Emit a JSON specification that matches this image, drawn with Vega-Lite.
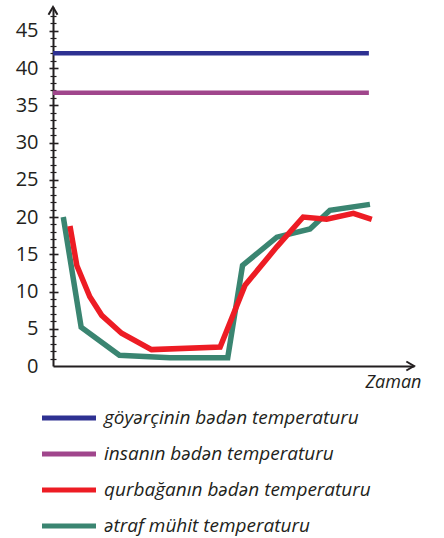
{
  "$schema": "https://vega.github.io/schema/vega-lite/v6.json",
  "width": 356,
  "height": 359,
  "autosize": {"type": "none"},
  "padding": {"left": 58, "top": 7, "right": 30, "bottom": 172},
  "background": "white",
  "config": {
    "view": {"stroke": null},
    "axis": {"grid": false, "domainColor": "#231f20", "tickColor": "#231f20", "labelColor": "#231f20", "titleColor": "#231f20"}
  },
  "encoding": {
    "x": {
      "field": "t", "type": "quantitative",
      "scale": {"domain": [0, 100], "range": [-5, 356], "nice": false, "zero": false},
      "axis": {
        "title": "Zaman", "ticks": false, "labels": false, "domainWidth": 2,
        "titleFont": "Open Sans", "titleFontSize": 18, "titleFontStyle": "italic", "titleFontWeight": "normal",
        "titleX": 363, "titleY": 16, "titleAlign": "right", "titleBaseline": "middle"
      }
    }
  },
  "layer": [
    {
      "data": {"values": [
        {"series": "göyərçinin bədən temperaturu", "t": 0, "v": 42},
        {"series": "göyərçinin bədən temperaturu", "t": 87.5, "v": 42},
        {"series": "insanın bədən temperaturu", "t": 0, "v": 36.7},
        {"series": "insanın bədən temperaturu", "t": 87.5, "v": 36.7}
      ]},
      "mark": {"type": "line", "strokeWidth": 4.5, "strokeCap": "butt"},
      "encoding": {
        "y": {
          "field": "v", "type": "quantitative",
          "scale": {"domain": [0, 48.2], "nice": false},
          "axis": {"orient": "left", "title": null, "values": [0, 5, 10, 15, 20, 25, 30, 35, 40, 45], "ticks": false, "tickSize": 0, "offset": 5, "labelPadding": 15, "labelFont": "Open Sans", "labelFontSize": 20, "labelFlush": false, "domainWidth": 2}
        },
        "color": {
          "field": "series", "type": "nominal",
          "scale": {
            "domain": ["göyərçinin bədən temperaturu", "insanın bədən temperaturu", "qurbağanın bədən temperaturu", "ətraf mühit temperaturu"],
            "range": ["#2e3192", "#a0468c", "#ed1c24", "#3a8571"]
          },
          "legend": {
            "orient": "none", "legendX": -5, "legendY": 395, "title": null,
            "symbolType": "M-2,0H2", "symbolSize": 729, "symbolStrokeWidth": 5,
            "labelFont": "Open Sans", "labelFontSize": 19, "labelFontStyle": "italic", "labelColor": "#231f20",
            "labelOffset": 19, "rowPadding": 10, "padding": 0, "labelLimit": 400
          }
        }
      }
    },
    {
      "data": {"values": [
        {"series": "ətraf mühit temperaturu", "t": 2.85, "v": 20.0},
        {"series": "ətraf mühit temperaturu", "t": 7.8, "v": 5.2},
        {"series": "ətraf mühit temperaturu", "t": 18.4, "v": 1.45},
        {"series": "ətraf mühit temperaturu", "t": 32.4, "v": 1.1},
        {"series": "ətraf mühit temperaturu", "t": 48.4, "v": 1.1},
        {"series": "ətraf mühit temperaturu", "t": 52.5, "v": 13.5},
        {"series": "ətraf mühit temperaturu", "t": 62.0, "v": 17.3},
        {"series": "ətraf mühit temperaturu", "t": 71.2, "v": 18.4},
        {"series": "ətraf mühit temperaturu", "t": 76.7, "v": 20.9},
        {"series": "ətraf mühit temperaturu", "t": 87.8, "v": 21.7},
        {"series": "qurbağanın bədən temperaturu", "t": 4.7, "v": 18.8},
        {"series": "qurbağanın bədən temperaturu", "t": 6.6, "v": 13.5},
        {"series": "qurbağanın bədən temperaturu", "t": 10.2, "v": 9.3},
        {"series": "qurbağanın bədən temperaturu", "t": 13.5, "v": 6.8},
        {"series": "qurbağanın bədən temperaturu", "t": 19.0, "v": 4.4},
        {"series": "qurbağanın bədən temperaturu", "t": 27.3, "v": 2.2},
        {"series": "qurbağanın bədən temperaturu", "t": 46.3, "v": 2.55},
        {"series": "qurbağanın bədən temperaturu", "t": 53.2, "v": 10.85},
        {"series": "qurbağanın bədən temperaturu", "t": 62.0, "v": 16.0},
        {"series": "qurbağanın bədən temperaturu", "t": 69.3, "v": 20.0},
        {"series": "qurbağanın bədən temperaturu", "t": 75.8, "v": 19.7},
        {"series": "qurbağanın bədən temperaturu", "t": 83.2, "v": 20.5},
        {"series": "qurbağanın bədən temperaturu", "t": 88.3, "v": 19.7}
      ]},
      "mark": {"type": "line", "strokeWidth": 5.5, "strokeCap": "butt"},
      "encoding": {
        "y": {
          "field": "v", "type": "quantitative",
          "scale": {"domain": [0, 48.2], "nice": false},
          "axis": {"orient": "left", "title": null, "values": [5, 10, 15, 20, 25, 30, 35, 40, 45], "labels": false, "domain": false, "ticks": true, "tickSize": 9, "tickWidth": 1.6, "offset": 0}
        },
        "color": {"field": "series", "type": "nominal"}
      }
    },
    {
      "data": {"values": [
        {"t": 0, "v": 48.2, "dir": "up"},
        {"t": 100, "v": 0, "dir": "right"}
      ]},
      "mark": {"type": "point", "filled": false, "strokeWidth": 2, "color": "#231f20", "opacity": 1, "size": 81},
      "encoding": {
        "y": {
          "field": "v", "type": "quantitative",
          "scale": {"domain": [0, 48.2], "nice": false},
          "axis": {"orient": "left", "title": null, "values": [1,2,3,4,6,7,8,9,11,12,13,14,16,17,18,19,21,22,23,24,26,27,28,29,31,32,33,34,36,37,38,39,41,42,43,44,46,47], "labels": false, "domain": false, "ticks": true, "tickSize": 6, "tickWidth": 1.2, "offset": 2}
        },
        "shape": {
          "field": "dir", "type": "nominal",
          "scale": {"domain": ["up", "right"], "range": ["M-1,1.7L0,0L1,1.7", "M-1.7,-1L0,0L-1.7,1"]},
          "legend": null
        }
      }
    }
  ],
  "resolve": {"scale": {"y": "independent"}}
}
